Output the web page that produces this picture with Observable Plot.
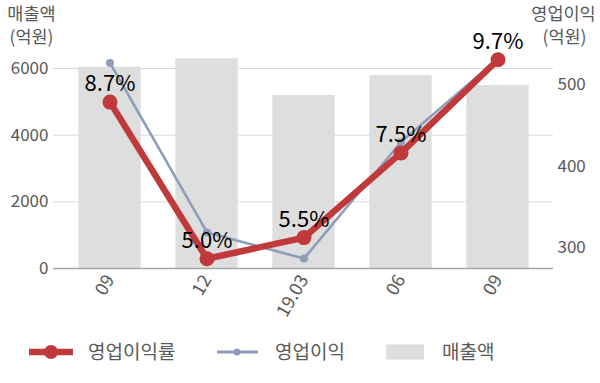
<!DOCTYPE html>
<html>
<head>
<meta charset="utf-8">
<script src="https://cdn.jsdelivr.net/npm/d3@7"></script>
<script src="https://cdn.jsdelivr.net/npm/@observablehq/plot@0.6"></script>
<style>
  html, body { margin: 0; padding: 0; background: #fff; }
  #wrap { position: relative; width: 600px; height: 383px; font-family: "Noto Sans CJK KR", "Noto Sans", sans-serif; }
  #wrap > svg, #wrap > figure { position: absolute; left: 0; top: 0; margin: 0; }
</style>
</head>
<body>
<div id="wrap"></div>
<script>
const periods = ["09", "12", "19.03", "06", "09 "];
const periodLabels = ["09", "12", "19.03", "06", "09"];
const revenue = [6040, 6290, 5190, 5790, 5490];        // 매출액 (억원)
const opProfit = [527, 319, 287, 430, 532];             // 영업이익 (억원)
const opMargin = [8.7, 5.0, 5.5, 7.5, 9.7];             // 영업이익률 (%)
const leftTicks = [0, 2000, 4000, 6000];
const rightTicks = [300, 400, 500];

const rows = periods.map((p, i) => ({period: p, label: periodLabels[i], revenue: revenue[i], op: opProfit[i], margin: opMargin[i]}));

const W = 600, H = 325;
const common = {
  width: W, height: H,
  marginTop: 34.7, marginBottom: 57, marginLeft: 53, marginRight: 47,
  style: {background: "transparent", overflow: "visible", fontFamily: "'Noto Sans CJK KR', 'Noto Sans', sans-serif"},
  x: {type: "band", domain: periods, paddingInner: 0, paddingOuter: 0.07, align: 0.5}
};
const RED = "#c0393b", BLUE = "#8f9cba", BAR = "#dedede", TXT = "#595959";

const plotA = Plot.plot({
  ...common,
  y: {domain: [0, 7000]},
  marks: [
    Plot.gridY(leftTicks.slice(1), {stroke: "#d9d9d9", strokeOpacity: 1}),
    Plot.barY(rows, {x: "period", y: "revenue", fill: BAR, insetLeft: 17.3, insetRight: 17.3}),
    Plot.ruleY([0], {stroke: "#a6a6a6", strokeWidth: 1.3}),
    Plot.axisY(leftTicks, {tickSize: 0, tickPadding: 5, fontSize: 17, color: TXT, label: null, tickFormat: d => String(d)}),
    Plot.axisX({tickSize: 0, tickPadding: 8, tickRotate: -60, fontSize: 18, color: TXT, label: null,
      tickFormat: d => d.trim()}),
    Plot.text(["매출액"], {frameAnchor: "top-left", dx: -22, dy: -21.2, lineAnchor: "middle", fontSize: 17.5, fill: TXT, textAnchor: "middle"}),
    Plot.text(["(억원)"], {frameAnchor: "top-left", dx: -22, dy: 2.4, lineAnchor: "middle", fontSize: 17.5, fill: TXT, textAnchor: "middle"}),
    Plot.text(["영업이익"], {frameAnchor: "top-right", dx: 10, dy: -21.2, lineAnchor: "middle", fontSize: 17.5, fill: TXT, textAnchor: "middle"}),
    Plot.text(["(억원)"], {frameAnchor: "top-right", dx: 11, dy: 2.4, lineAnchor: "middle", fontSize: 17.5, fill: TXT, textAnchor: "middle"})
  ]
});

const plotB = Plot.plot({
  ...common,
  y: {domain: [274.8, 561]},
  marks: [
    Plot.axisY(rightTicks, {anchor: "right", tickSize: 0, tickPadding: 4, fontSize: 17, color: TXT, label: null, tickFormat: d => String(d)}),
    Plot.axisX({ticks: [], label: null}),
    Plot.line(rows, {x: "period", y: "op", stroke: BLUE, strokeWidth: 2.6}),
    Plot.dot(rows, {x: "period", y: "op", fill: BLUE, r: 4})
  ]
});

const plotC = Plot.plot({
  ...common,
  y: {domain: [4.77, 10.28], axis: null},
  marks: [
    Plot.axisX({ticks: [], label: null}),
    Plot.line(rows, {x: "period", y: "margin", stroke: RED, strokeWidth: 6.5}),
    Plot.dot(rows, {x: "period", y: "margin", fill: RED, r: 7.5}),
    Plot.text(rows, {x: "period", y: "margin", text: d => d.margin.toFixed(1) + "%", dy: -18, fontSize: 22, fill: "#000"})
  ]
});

const wrap = document.getElementById("wrap");
[plotA, plotB, plotC].forEach(p => wrap.appendChild(p));

// Legend below the chart
const ns = "http://www.w3.org/2000/svg";
const leg = document.createElementNS(ns, "svg");
leg.setAttribute("width", 600); leg.setAttribute("height", 58);
leg.style.position = "absolute"; leg.style.left = "0px"; leg.style.top = H + "px";
const cy = 27;
leg.innerHTML = `
  <line x1="29" x2="73" y1="${cy}" y2="${cy}" stroke="${RED}" stroke-width="6.5"/>
  <circle cx="51" cy="${cy}" r="7" fill="${RED}"/>
  <text x="88" y="${cy}" dy="0.36em" font-size="19" fill="${TXT}">영업이익률</text>
  <line x1="217" x2="258" y1="${cy}" y2="${cy}" stroke="${BLUE}" stroke-width="3"/>
  <circle cx="237" cy="${cy}" r="3.5" fill="${BLUE}"/>
  <text x="275" y="${cy}" dy="0.36em" font-size="19" fill="${TXT}">영업이익</text>
  <rect x="386" y="${cy - 7.5}" width="38" height="15" fill="${BAR}"/>
  <text x="442" y="${cy}" dy="0.36em" font-size="19" fill="${TXT}">매출액</text>
`;
leg.style.fontFamily = "'Noto Sans CJK KR', 'Noto Sans', sans-serif";
wrap.appendChild(leg);
</script>
</body>
</html>
